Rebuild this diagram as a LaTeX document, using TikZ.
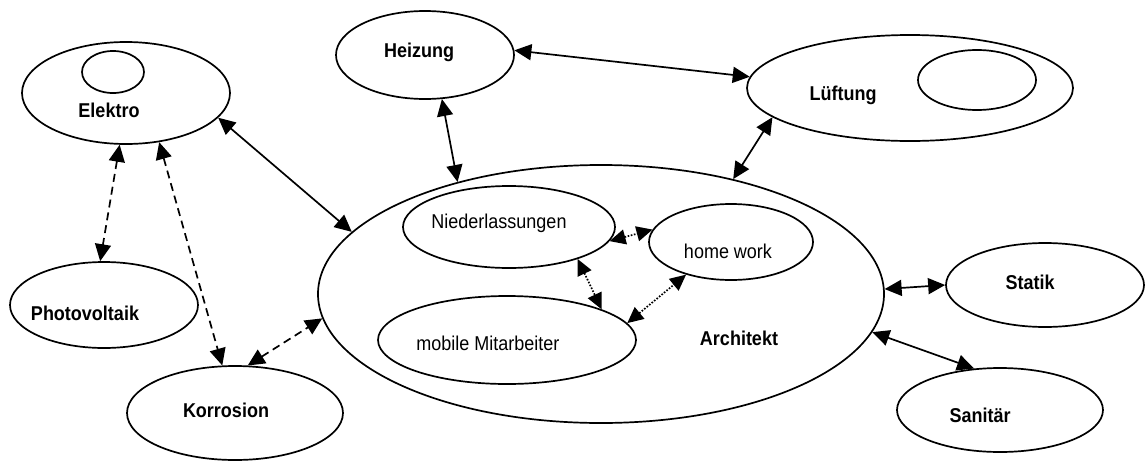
\documentclass[tikz,border=0pt]{standalone}
\usepackage{fontspec}
\setmainfont{Liberation Sans}
\newfontfamily\labelfont[FakeStretch=0.9]{Liberation Sans}
\usetikzlibrary{shapes.geometric,arrows.meta}
\begin{document}
\begin{tikzpicture}[x=1pt,y=-1pt,
  oval/.style={ellipse,draw,line width=1.7pt,inner sep=0pt},
  lbl/.style={font=\labelfont\fontsize{20}{22}\selectfont\bfseries,inner sep=0pt},
  lblr/.style={font=\labelfont\fontsize{20}{22}\selectfont,inner sep=0pt},
  link/.style={line width=1.7pt,{Triangle[length=17pt,width=16pt]}-{Triangle[length=17pt,width=16pt]}},
  dlink/.style={link,dash pattern=on 8pt off 5pt},
  plink/.style={line width=1.7pt,dash pattern=on 1.6pt off 1.6pt,
    {Triangle[length=16pt,width=15pt]}-{Triangle[length=16pt,width=15pt]}}]
\useasboundingbox (0,0) rectangle (1146,461);

% outer ovals
\node[oval,minimum width=208pt,minimum height=102pt] (elektro) at (126,93) {};
\node[oval,minimum width=62pt,minimum height=42pt] (elektroin) at (113,72) {};
\node[lbl] (elektrot) at (109,110) {Elektro};

\node[oval,minimum width=178pt,minimum height=88pt] (heizung) at (425,55) {};
\node[lbl] (heizungt) at (419,52) {Heizung};

\node[oval,minimum width=326pt,minimum height=106pt] (lueftung) at (910,88) {};
\node[oval,minimum width=118pt,minimum height=60pt] (lueftungin) at (977,80) {};
\node[lbl] (lueftungt) at (843,95) {Lüftung};

\node[oval,minimum width=188pt,minimum height=86pt] (photo) at (104,305) {};
\node[lbl] (photot) at (85,313) {Photovoltaik};

\node[oval,minimum width=216pt,minimum height=94pt] (korr) at (235,413) {};
\node[lbl] (korrt) at (226,410) {Korrosion};

\node[oval,minimum width=566pt,minimum height=258pt] (arch) at (601,294) {};
\node[lbl] (archt) at (739,338) {Architekt};

\node[oval,minimum width=198pt,minimum height=84pt] (statik) at (1045,285) {};
\node[lbl] (statikt) at (1030,282) {Statik};

\node[oval,minimum width=206pt,minimum height=84pt] (sanitaer) at (1000,410) {};
\node[lbl] (sanitaert) at (980,415) {Sanitär};

% inner ovals of the architect
\node[oval,minimum width=212pt,minimum height=82pt] (nieder) at (509,227) {};
\node[lblr] (niedert) at (499,223) {Niederlassungen};

\node[oval,minimum width=164pt,minimum height=76pt] (home) at (731,242) {};
\node[lblr] (homet) at (728,251) {home work};

\node[oval,minimum width=258pt,minimum height=88pt] (mobil) at (507,340) {};
\node[lblr] (mobilt) at (488,343) {mobile Mitarbeiter};

% solid links
\draw[link] (elektro.-15) -- (arch.166);
\draw[link] (heizung.-69) -- (arch.142.6);
\draw[link] (heizung.3) -- (lueftung.176);
\draw[link] (lueftung.192.5) -- (arch.41.6);
\draw[link] (arch.1.2) -- (statik.180);
\draw[link] (arch.-8.6) -- (sanitaer.122);

% dashed links
\draw[dlink] (elektro.-97.6) -- (photo.95);
\draw[dlink] (elektro.-56) -- (korr.105);
\draw[dlink] (korr.75) -- (arch.185.4);

% dotted links
\draw[plink] (nieder.-8.7) -- (home.171.3);
\draw[plink] (nieder.-25.5) -- (mobil.18.4);
\draw[plink] (mobil.8.5) -- (home.216.7);
\end{tikzpicture}
\end{document}
